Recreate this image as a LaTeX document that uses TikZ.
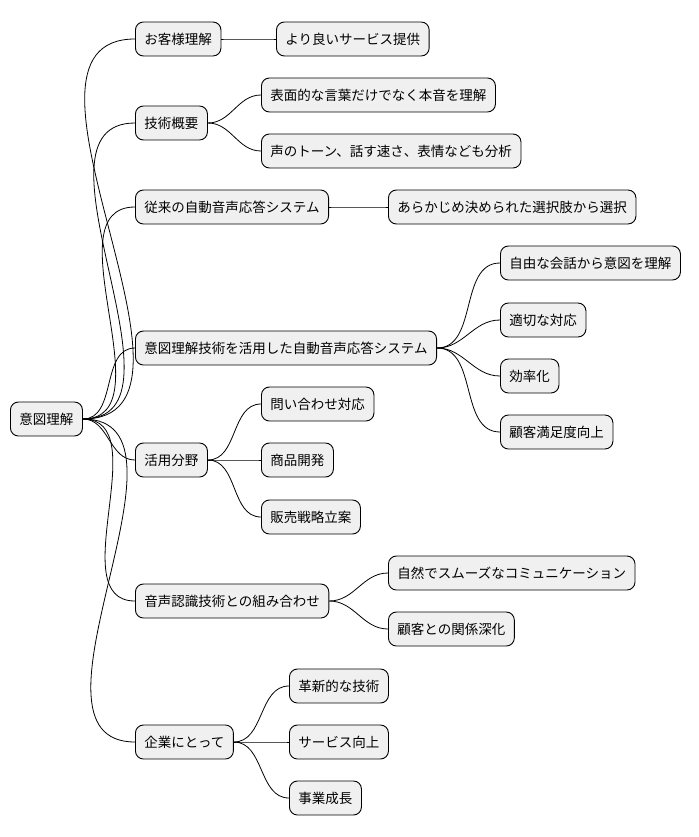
\documentclass[tikz,border=0pt]{standalone}
\usepackage{fontspec}
\setmainfont{Noto Sans CJK JP}
\begin{document}
\begin{tikzpicture}[x=1pt,y=-1pt,
  box/.style={draw=black,fill=black!6,rounded corners=8pt,anchor=west,minimum height=34pt,inner xsep=9pt,line width=0.9pt,font=\fontsize{13.5}{16}\selectfont},
  link/.style={line width=0.8pt}]
\useasboundingbox (0,0) rectangle (698,837);
\node[box] (r) at (10,419) {意図理解};
\node[box] (a) at (135,39) {お客様理解};
\node[box] (a1) at (276,39) {より良いサービス提供};
\node[box] (b) at (135,123) {技術概要};
\node[box] (b1) at (261,95) {表面的な言葉だけでなく本音を理解};
\node[box] (b2) at (261,151) {声のトーン、話す速さ、表情なども分析};
\node[box] (c) at (135,207) {従来の自動音声応答システム};
\node[box] (c1) at (388,207) {あらかじめ決められた選択肢から選択};
\node[box] (d) at (135,348) {意図理解技術を活用した自動音声応答システム};
\node[box] (d1) at (500,263) {自由な会話から意図を理解};
\node[box] (d2) at (500,320) {適切な対応};
\node[box] (d3) at (500,376) {効率化};
\node[box] (d4) at (500,432) {顧客満足度向上};
\node[box] (e) at (135,460) {活用分野};
\node[box] (e1) at (261,404) {問い合わせ対応};
\node[box] (e2) at (261,460) {商品開発};
\node[box] (e3) at (261,517) {販売戦略立案};
\node[box] (f) at (135,601) {音声認識技術との組み合わせ};
\node[box] (f1) at (388,573) {自然でスムーズなコミュニケーション};
\node[box] (f2) at (388,629) {顧客との関係深化};
\node[box] (g) at (135,742) {企業にとって};
\node[box] (g1) at (289,686) {革新的な技術};
\node[box] (g2) at (289,742) {サービス向上};
\node[box] (g3) at (289,798) {事業成長};
\foreach \p/\c in {r/a,r/b,r/c,r/d,r/e,r/f,r/g,a/a1,b/b1,b/b2,c/c1,d/d1,d/d2,d/d3,d/d4,e/e1,e/e2,e/e3,f/f1,f/f2,g/g1,g/g2,g/g3}
  \draw[link] (\p.east) to[out=0,in=180] (\c.west);
\end{tikzpicture}
\end{document}
